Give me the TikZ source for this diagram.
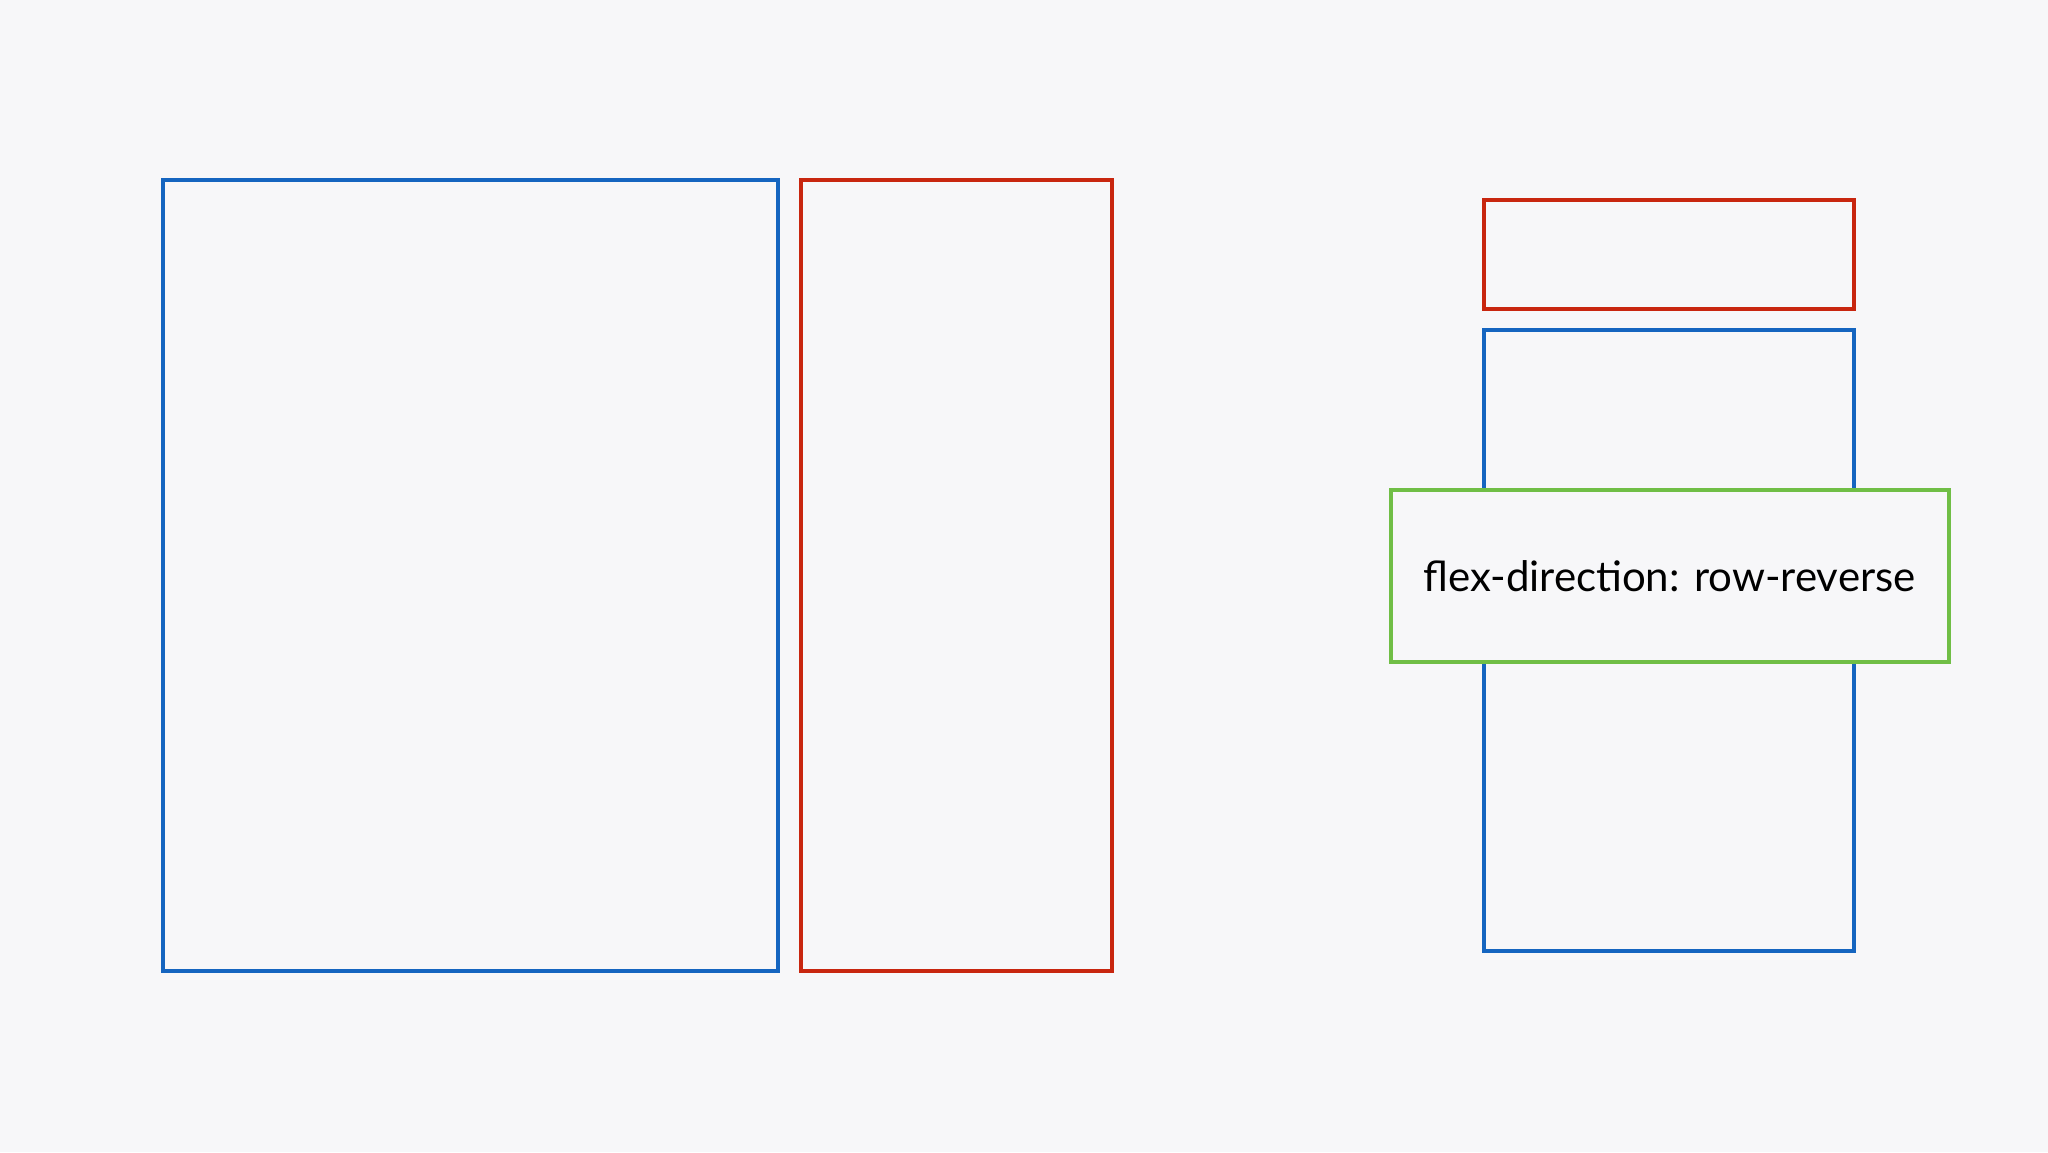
\documentclass[tikz,border=0pt]{standalone}
\usepackage{fontspec}
\setmainfont{Lato}
\definecolor{bgcol}{RGB}{247,247,249}
\definecolor{itemblue}{RGB}{21,101,192}
\definecolor{itemred}{RGB}{200,38,15}
\definecolor{notegreen}{RGB}{112,190,70}

\begin{document}
\begin{tikzpicture}[x=0.5pt,y=0.5pt,yscale=-1,xscale=1]
\tikzset{blueitem/.style={draw=itemblue,line width=2pt},
  reditem/.style={draw=itemred,line width=2pt}}
%canvas
\fill [bgcol] (0,0) rectangle (2048,1152);
\useasboundingbox (0,0) rectangle (2048,1152);

%Shape: Rectangle [id:blueleft]
\draw [blueitem] (163,180) rectangle (778,971) ;
%Shape: Rectangle [id:redleft]
\draw [reditem] (801,180) rectangle (1112,971) ;
%Shape: Rectangle [id:redright]
\draw [reditem] (1484,200) rectangle (1854,309) ;
%Shape: Rectangle [id:blueright]
\draw [blueitem] (1484,330) rectangle (1854,951) ;

% Text Node
\node [draw=notegreen,line width=2pt,fill=bgcol,minimum width=279pt,minimum height=86pt,inner sep=0pt] (note) at (1669.5,576) {\fontsize{21}{25}\selectfont flex-direction: row-reverse};

\end{tikzpicture}
\end{document}
